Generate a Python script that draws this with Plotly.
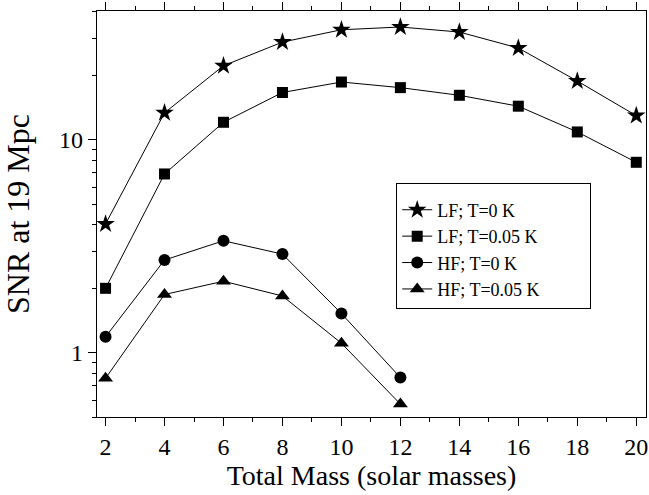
import plotly.graph_objects as go
import math

mass = [2, 4, 6, 8, 10, 12, 14, 16, 18, 20]
mass_hf = [2, 4, 6, 8, 10, 12]
lf_t0 = [4.03, 13.4, 22.3, 28.8, 32.9, 33.9, 32.1, 27.0, 18.9, 13.0]
lf_t005 = [2.01, 6.92, 12.1, 16.7, 18.7, 17.6, 16.2, 14.4, 10.9, 7.85]
hf_t0 = [1.19, 2.73, 3.36, 2.91, 1.53, 0.766]
hf_t005 = [0.76, 1.88, 2.17, 1.85, 1.11, 0.575]

names = ["LF; T=0 K", "LF; T=0.05 K", "HF; T=0 K", "HF; T=0.05 K"]
symbols = ["star", "square", "circle", "triangle-up"]
sizes = [14, 11, 12, 13]

y_major = [1, 10]
y_minor = [0.5, 0.6, 0.7, 0.8, 0.9, 2, 3, 4, 5, 6, 7, 8, 9, 20, 30, 40]
x_major = [2, 4, 6, 8, 10, 12, 14, 16, 18, 20]
x_minor = [3, 5, 7, 9, 11, 13, 15, 17, 19]

FONT = "Liberation Serif, Times New Roman, serif"
PAD = "\u00a0" * 10

fig = go.Figure()
series = [(mass, lf_t0), (mass, lf_t005), (mass_hf, hf_t0), (mass_hf, hf_t005)]
for (xs, ys), nm, sy, sz in zip(series, names, symbols, sizes):
    fig.add_trace(go.Scatter(
        x=xs, y=ys, name=nm + PAD, mode="lines+markers",
        line=dict(color="black", width=1),
        marker=dict(symbol=sy, size=sz, color="black"),
    ))

yr = [math.log10(0.5), math.log10(40.3)]

fig.update_layout(
    width=649, height=495,
    margin=dict(l=97, r=3, t=11, b=78, autoexpand=False),
    paper_bgcolor="white", plot_bgcolor="white",
    font=dict(family=FONT, color="black", size=24),
    showlegend=True,
    legend=dict(
        x=0.545, y=0.577, xanchor="left", yanchor="top",
        bordercolor="black", borderwidth=1, bgcolor="white",
        font=dict(family=FONT, size=18, color="black"),
        tracegroupgap=0,
        title=dict(text="\u00a0", font=dict(size=6)),
    ),
    xaxis=dict(
        range=[1.71, 20.33], tickvals=x_major, ticks="outside", ticklen=8,
        tickwidth=1, tickcolor="black", showline=True, linecolor="black",
        linewidth=1.3, mirror="ticks", showgrid=False, zeroline=False,
        tickfont=dict(size=24), automargin=False,
        minor=dict(tickvals=x_minor, ticks="outside", ticklen=4, tickcolor="black", showgrid=False),
        title=dict(text="Total Mass (solar masses)", font=dict(size=28), standoff=4),
    ),
    yaxis=dict(
        type="log", range=yr, tickvals=y_major, ticktext=["1", "10"],
        ticks="outside", ticklen=8, tickwidth=1, tickcolor="black",
        showline=True, linecolor="black", linewidth=1.3, mirror=True,
        showgrid=False, zeroline=False, tickfont=dict(size=24), automargin=False,
        minor=dict(tickvals=y_minor, ticks="outside", ticklen=4, tickcolor="black", showgrid=False),
        title=dict(text="SNR at 19 Mpc", font=dict(size=32), standoff=19),
    ),
    yaxis2=dict(
        type="log", range=yr, overlaying="y", side="right", anchor="x",
        tickvals=y_major, showticklabels=False, ticks="inside", ticklen=8,
        tickcolor="black", showgrid=False, zeroline=False, showline=False,
        automargin=False,
        minor=dict(tickvals=y_minor, ticks="inside", ticklen=4, tickcolor="black", showgrid=False),
    ),
)

fig.write_html("out.html", config={"displayModeBar": False},
               post_script="document.body.style.margin='0px';")
